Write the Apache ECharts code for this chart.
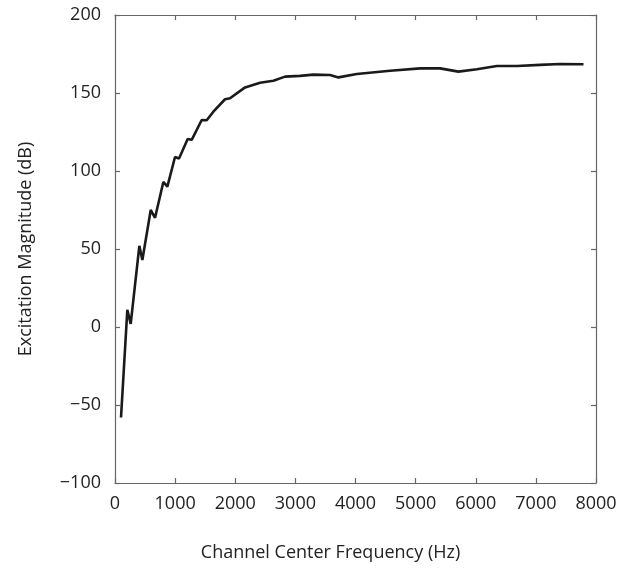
<!DOCTYPE html>
<html>
<head>
<meta charset="utf-8">
<script src="https://cdn.jsdelivr.net/npm/echarts@6/dist/echarts.min.js"></script>
<style>
html,body{margin:0;padding:0;background:#fff;}
#chart{width:630px;height:569px;}
</style>
</head>
<body>
<div id="chart"></div>
<script>
const freqHz = [100,205,261,405,455,594,666,804,871,998,1065,1209,1276,1442,1525,1636,1830,1913,2163,2413,2634,2829,3078,3300,3577,3716,4021,4576,5075,5408,5712,6018,6351,6684,7072,7404,7792];
const magnitudeDb = [-58,11,2,52,43,75,70,93,90,109,108,120.5,120,132.7,132.5,138,146,146.6,153.6,156.6,157.9,160.5,161,161.8,161.5,160,162.2,164.3,165.8,165.8,163.7,165.2,167.3,167.3,168,168.6,168.4];
const xTicks = {min:0, max:8000, interval:1000};
const yTicks = {min:-100, max:200, interval:50};
const xTitle = 'Channel Center Frequency (Hz)';
const yTitle = 'Excitation Magnitude (dB)';

const font = 'Open Sans';
const axisCol = '#666';
const fmt = v => (v < 0 ? '\u2212' + Math.abs(v) : String(v));
const chart = echarts.init(document.getElementById('chart'));
const baseAxis = (t) => ({
  type:'value', min:t.min, max:t.max, interval:t.interval,
  splitLine:{show:false},
  axisLine:{show:true, onZero:false, lineStyle:{color:axisCol, width:1.2}},
  axisTick:{show:true, inside:true, length:5, lineStyle:{color:axisCol, width:1.2}}
});
chart.setOption({
  animation:false,
  backgroundColor:'#fff',
  grid:{left:115, right:34, top:15, bottom:86, show:false},
  xAxis:[
    Object.assign(baseAxis(xTicks), {
      position:'bottom',
      axisLabel:{color:'#222', fontFamily:font, fontSize:18, margin:12, formatter:fmt},
      name:xTitle, nameLocation:'middle', nameGap:61,
      nameTextStyle:{color:'#222', fontFamily:font, fontSize:18, padding:[0,50,0,0]}
    }),
    Object.assign(baseAxis(xTicks), {position:'top', axisLabel:{show:false}})
  ],
  yAxis:[
    Object.assign(baseAxis(yTicks), {
      position:'left',
      axisLabel:{color:'#222', fontFamily:font, fontSize:18, margin:14, formatter:fmt},
      name:yTitle, nameLocation:'middle', nameGap:80,
      nameTextStyle:{color:'#222', fontFamily:font, fontSize:18}
    }),
    Object.assign(baseAxis(yTicks), {position:'right', axisLabel:{show:false}})
  ],
  series:[{
    type:'line',
    data: freqHz.map((f,i)=>[f, magnitudeDb[i]]),
    showSymbol:false,
    lineStyle:{color:'#1a1a1a', width:2.6},
    smooth:false
  }]
});
</script>
</body>
</html>
